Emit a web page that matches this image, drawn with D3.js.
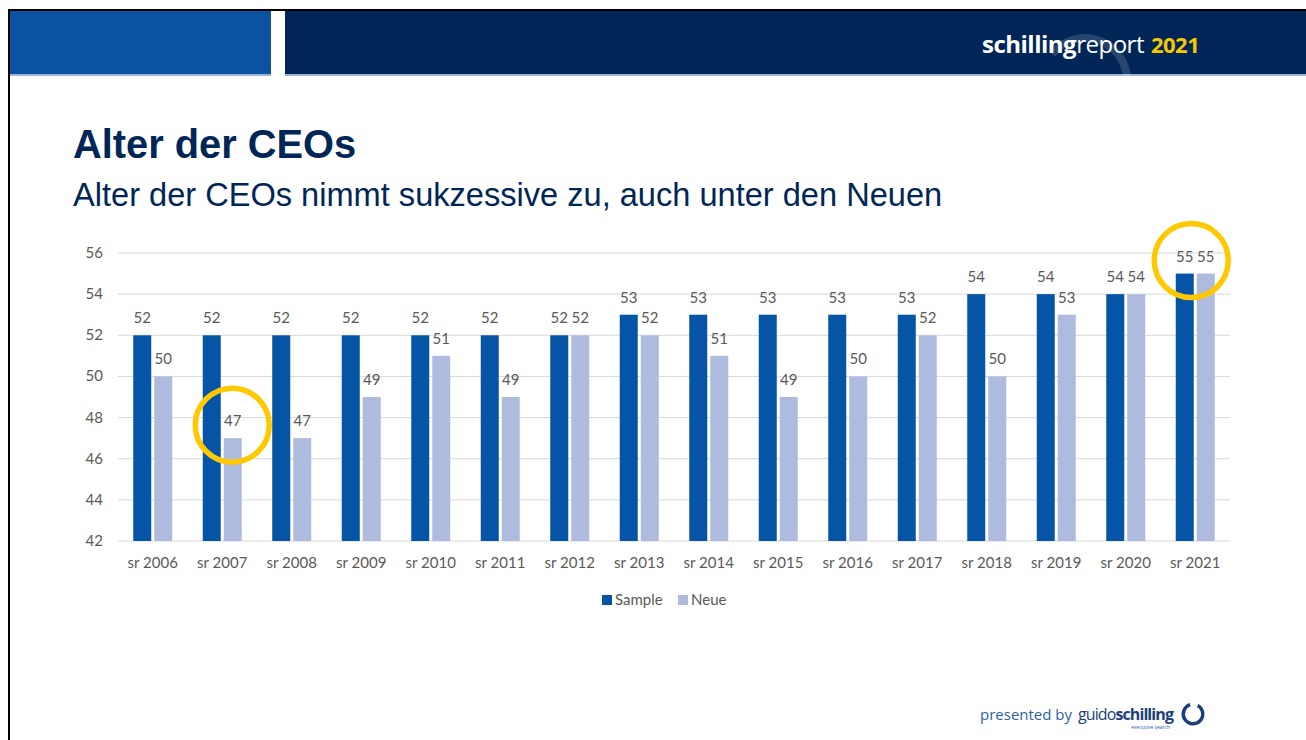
<!DOCTYPE html>
<html>
<head>
<meta charset="utf-8">
<script src="https://cdn.jsdelivr.net/npm/d3@7"></script>
<style>
  body { margin: 0; background: #fff; }
  svg { display: block; }
</style>
</head>
<body>
<div id="chart"></div>
<script>
// data
var years = ["sr 2006", "sr 2007", "sr 2008", "sr 2009", "sr 2010", "sr 2011", "sr 2012", "sr 2013",
             "sr 2014", "sr 2015", "sr 2016", "sr 2017", "sr 2018", "sr 2019", "sr 2020", "sr 2021"];
var sample = [52, 52, 52, 52, 52, 52, 52, 53, 53, 53, 53, 53, 54, 54, 54, 55];
var neue   = [50, 47, 47, 49, 51, 49, 52, 52, 51, 49, 50, 52, 50, 53, 54, 55];
var yTicks = [42, 44, 46, 48, 50, 52, 54, 56];
var seriesNames = ["Sample", "Neue"];
var highlights = [{year: "sr 2007", value: 47, dx: 10}, {year: "sr 2021", value: 55, dx: -4}];

var W = 1306, H = 740;
var darkBlue = "#0654a6", lightBlue = "#aebbdf", navy = "#002657";

var svg = d3.select("#chart").append("svg")
    .attr("width", W)
    .attr("height", H);

// slide frame + header
svg.append("rect").attr("x", 0).attr("y", 0).attr("width", W).attr("height", H).attr("fill", "#fff");
svg.append("rect").attr("x", 8).attr("y", 9).attr("width", W - 8).attr("height", 2).attr("fill", "#000");
svg.append("rect").attr("x", 8).attr("y", 9).attr("width", 2).attr("height", H - 9).attr("fill", "#000");
svg.append("rect").attr("x", 10).attr("y", 11).attr("width", 261).attr("height", 64).attr("fill", "#0b52a3");
svg.append("rect").attr("x", 285).attr("y", 11).attr("width", W - 285).attr("height", 64).attr("fill", navy);
svg.append("rect").attr("x", 10).attr("y", 74).attr("width", 261).attr("height", 2).attr("fill", "#9db3d6");
svg.append("rect").attr("x", 285).attr("y", 74).attr("width", W - 285).attr("height", 2).attr("fill", "#9db3d6");

// faint arc behind the logo text
var arc = d3.arc()({innerRadius: 38, outerRadius: 46, startAngle: -0.9, endAngle: 1.9});
svg.append("path")
    .attr("d", arc)
    .attr("transform", "translate(1085,80)")
    .attr("fill", "#ffffff")
    .attr("opacity", 0.15);

var logo = svg.append("text")
    .attr("x", 982).attr("y", 53)
    .attr("font-family", "'Open Sans', sans-serif")
    .attr("font-size", 24)
    .attr("letter-spacing", -0.5);
logo.append("tspan").attr("fill", "#fff").attr("font-weight", "bold").text("schilling");
logo.append("tspan").attr("fill", "#fff").text("report");
logo.append("tspan").attr("fill", "#f5c800").attr("font-weight", "bold").attr("dx", 7).attr("font-size", 22).text("2021");

// titles
svg.append("text")
    .attr("x", 73).attr("y", 158)
    .attr("font-family", "'Liberation Sans', Arial, sans-serif")
    .attr("font-weight", "bold")
    .attr("font-size", 39.8)
    .attr("fill", navy)
    .text("Alter der CEOs");

svg.append("text")
    .attr("x", 73).attr("y", 206)
    .attr("font-family", "'Liberation Sans', Arial, sans-serif")
    .attr("font-size", 32.6)
    .attr("fill", navy)
    .text("Alter der CEOs nimmt sukzessive zu, auch unter den Neuen");

// chart
var x0 = d3.scaleBand().domain(years).range([118, 1230]);
var y = d3.scaleLinear().domain([42, 56]).range([541, 253]);
var barW = 18, gap = 3;

var g = svg.append("g")
    .attr("font-family", "Lato, 'Open Sans', sans-serif")
    .attr("fill", "#595959");

g.selectAll("line.grid")
    .data(yTicks)
    .enter()
    .append("line")
    .attr("class", "grid")
    .attr("x1", 118).attr("x2", 1230)
    .attr("y1", d => y(d)).attr("y2", d => y(d))
    .attr("stroke", "#d9d9d9")
    .attr("stroke-width", 1);

g.selectAll("text.ytick")
    .data(yTicks)
    .enter()
    .append("text")
    .attr("class", "ytick")
    .attr("x", 103)
    .attr("y", d => y(d) + 5)
    .attr("text-anchor", "end")
    .attr("font-size", 15)
    .text(d => d);

g.selectAll("text.xtick")
    .data(years)
    .enter()
    .append("text")
    .attr("class", "xtick")
    .attr("x", d => x0(d) + x0.bandwidth() / 2)
    .attr("y", 568)
    .attr("text-anchor", "middle")
    .attr("font-size", 15)
    .text(d => d);

var series = [
    {name: seriesNames[0], values: sample, color: darkBlue, off: -barW - gap / 2},
    {name: seriesNames[1], values: neue, color: lightBlue, off: gap / 2}
];

series.forEach(function(s) {
    var rows = years.map((yr, i) => ({year: yr, value: s.values[i]}));
    g.selectAll("rect.b" + s.name)
        .data(rows)
        .enter()
        .append("rect")
        .attr("x", d => x0(d.year) + x0.bandwidth() / 2 + s.off)
        .attr("y", d => y(d.value))
        .attr("width", barW)
        .attr("height", d => y(42) - y(d.value))
        .attr("fill", s.color);

    g.selectAll("text.l" + s.name)
        .data(rows)
        .enter()
        .append("text")
        .attr("x", d => x0(d.year) + x0.bandwidth() / 2 + s.off + barW / 2)
        .attr("y", d => y(d.value) - 12)
        .attr("text-anchor", "middle")
        .attr("font-size", 15)
        .text(d => d.value);
});

// legend
var legend = g.append("g").attr("transform", "translate(602,600)");
var lx = [0, 76];
seriesNames.forEach(function(n, i) {
    legend.append("rect")
        .attr("x", lx[i]).attr("y", -5)
        .attr("width", 10).attr("height", 10)
        .attr("fill", series[i].color);
    legend.append("text")
        .attr("x", lx[i] + 13).attr("y", 5)
        .attr("font-size", 15)
        .text(n);
});

// yellow highlight circles
svg.selectAll("circle.hl")
    .data(highlights)
    .enter()
    .append("circle")
    .attr("class", "hl")
    .attr("cx", d => x0(d.year) + x0.bandwidth() / 2 + d.dx)
    .attr("cy", d => y(d.value) - 13)
    .attr("r", 37)
    .attr("fill", "none")
    .attr("stroke", "#ffc800")
    .attr("stroke-width", 5.5);

// footer
var foot = svg.append("text")
    .attr("x", 980).attr("y", 720)
    .attr("font-family", "'Open Sans', sans-serif")
    .attr("font-size", 15);
foot.append("tspan").attr("fill", "#2e5fa8").text("presented by ");
foot.append("tspan").attr("fill", "#1c3f7a").attr("dx", 2).attr("font-size", 16).attr("letter-spacing", -0.9).text("guido");
foot.append("tspan").attr("fill", "#1c3f7a").attr("font-weight", "bold").attr("font-size", 16).attr("letter-spacing", -0.9).text("schilling");

svg.append("text")
    .attr("x", 1170).attr("y", 729)
    .attr("text-anchor", "end")
    .attr("font-family", "'Open Sans', sans-serif")
    .attr("font-size", 5)
    .attr("fill", "#1f5fb0")
    .text("executive search");

var ring = d3.arc()({innerRadius: 8, outerRadius: 11.5, startAngle: 0.5, endAngle: 2 * Math.PI - 0.3});
svg.append("path")
    .attr("d", ring)
    .attr("transform", "translate(1193,714)")
    .attr("fill", "#1c3f7a");
</script>
</body>
</html>
